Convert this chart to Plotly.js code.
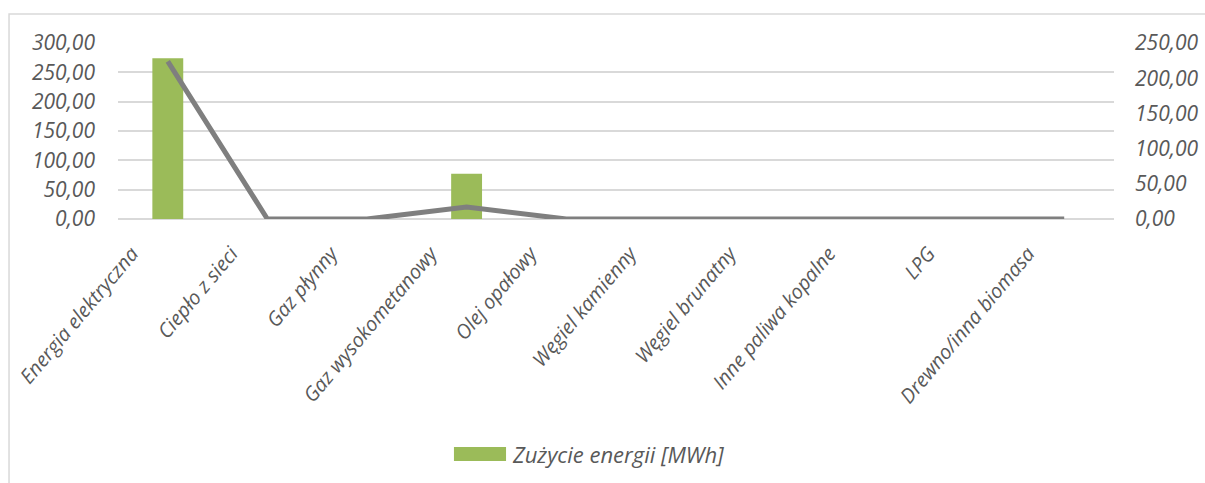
<!DOCTYPE html>
<html>
<head>
<meta charset="utf-8">
<script src="https://cdn.plot.ly/plotly-3.0.1.min.js"></script>
<style>
html,body{margin:0;padding:0;background:#fff;}
#chart{width:1205px;height:483px;}
</style>
</head>
<body>
<div id="chart"></div>
<script>
const categories = ["Energia elektryczna","Ciepło z sieci","Gaz płynny","Gaz wysokometanowy","Olej opałowy","Węgiel kamienny","Węgiel brunatny","Inne paliwa kopalne","LPG","Drewno/inna biomasa"];
const energyMWh = [274, 0, 0, 77, 0, 0, 0, 0, 0, 0];
const lineValues = [224, 0, 0, 17, 0, 0, 0, 0, 0, 0];
const leftTicks = [0, 50, 100, 150, 200, 250, 300];
const rightTicks = [0, 50, 100, 150, 200, 250];
const seriesName = "Zużycie energii [MWh]";

const fontFam = "'Open Sans', 'Noto Sans', sans-serif";
const txtColor = "#595959";
const barColor = '#9bbb59';
const fmt = v => v.toFixed(2).replace('.', ',');

const data = [
  {type:'bar', x:categories, y:energyMWh, name:seriesName, marker:{color:barColor}, yaxis:'y', showlegend:false},
  {type:'scatter', mode:'lines', x:categories, y:lineValues, yaxis:'y2', line:{color:'#7f7f7f', width:5}, showlegend:false}
];

const layout = {
  width:1205, height:483,
  margin:{l:118, r:91, t:43, b:264},
  paper_bgcolor:'#ffffff', plot_bgcolor:'#ffffff',
  bargap:0.69,
  font:{family:fontFam, color:txtColor},
  xaxis:{
    type:'category', tickangle:-50, showgrid:false, zeroline:false, showline:false, ticks:'',
    tickfont:{family:fontFam, size:20, color:txtColor, style:'italic'}, automargin:false,
    ticklabelshift:-36, ticklabelstandoff:18
  },
  yaxis:{
    range:[0,300], tickvals:leftTicks, ticktext:leftTicks.map(fmt), showgrid:true, gridcolor:'#d9d9d9', gridwidth:2,
    zeroline:true, zerolinecolor:'#d9d9d9', zerolinewidth:2, showline:false, ticks:'', ticklen:0,
    tickfont:{family:fontFam, size:21, color:txtColor, style:'italic'}, automargin:false, ticklabelstandoff:22
  },
  yaxis2:{
    range:[0,250], tickvals:rightTicks, ticktext:rightTicks.map(fmt), overlaying:'y', side:'right', showgrid:false, zeroline:false,
    showline:false, ticks:'', tickfont:{family:fontFam, size:21, color:txtColor, style:'italic'}, automargin:false, ticklabelstandoff:20
  },
  shapes:[
    {type:'rect', xref:'paper', yref:'paper', x0:-0.1094, x1:1.2, y0:-1.6, y1:1.1648,
      line:{color:'#d9d9d9', width:1.5}, fillcolor:'rgba(0,0,0,0)', layer:'below'},
    {type:'rect', xref:'paper', yref:'paper', x0:0.3373, x1:0.3896, y0:-1.375, y1:-1.2955,
      line:{width:0}, fillcolor:barColor}
  ],
  annotations:[
    {xref:'paper', yref:'paper', x:0.3936, y:-1.335, xanchor:'left', yanchor:'middle', showarrow:false,
      text:seriesName, font:{family:fontFam, size:22, color:txtColor, style:'italic'}}
  ],
  showlegend:false
};

Plotly.newPlot('chart', data, layout, {displayModeBar:false, staticPlot:true});
</script>
</body>
</html>
